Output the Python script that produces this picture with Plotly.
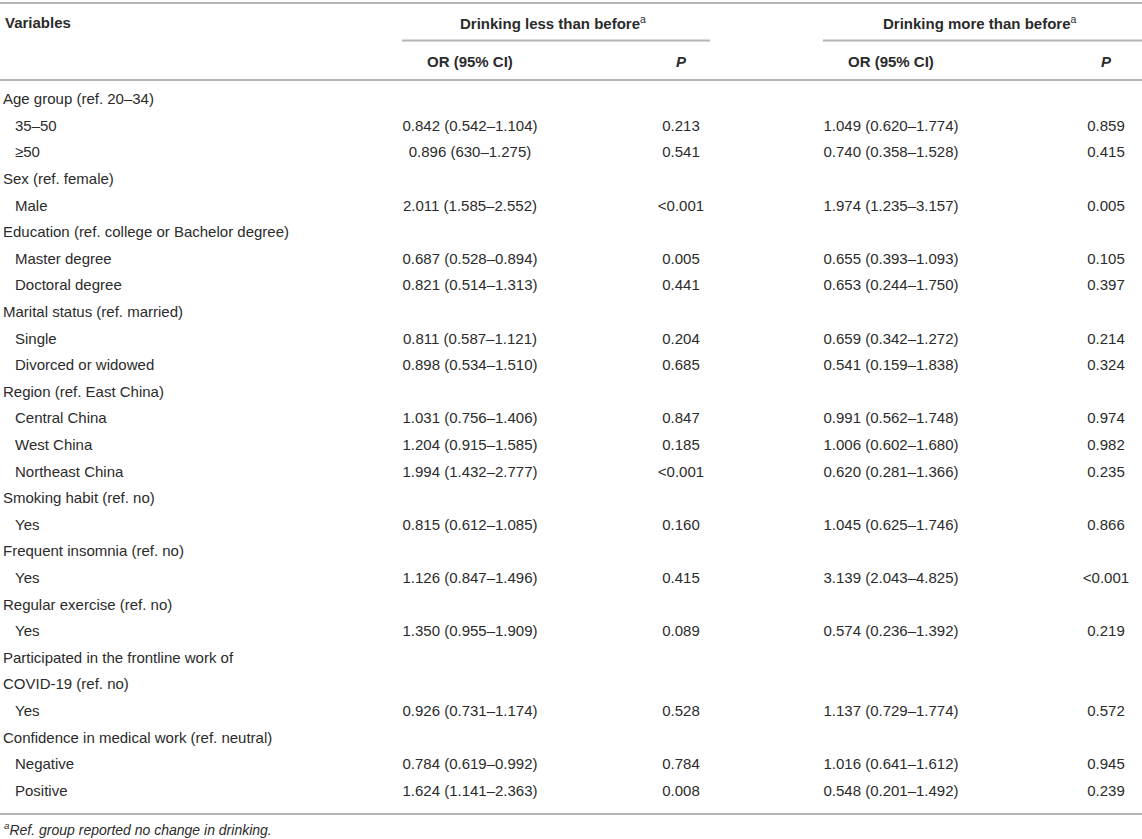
import plotly.graph_objects as go

# table contents
variables = [
    "Age group (ref. 20–34)", "35–50", "≥50",
    "Sex (ref. female)", "Male",
    "Education (ref. college or Bachelor degree)", "Master degree", "Doctoral degree",
    "Marital status (ref. married)", "Single", "Divorced or widowed",
    "Region (ref. East China)", "Central China", "West China", "Northeast China",
    "Smoking habit (ref. no)", "Yes",
    "Frequent insomnia (ref. no)", "Yes",
    "Regular exercise (ref. no)", "Yes",
    "Participated in the frontline work of", "COVID-19 (ref. no)", "Yes",
    "Confidence in medical work (ref. neutral)", "Negative", "Positive",
]
indented = [0, 1, 1, 0, 1, 0, 1, 1, 0, 1, 1, 0, 1, 1, 1, 0, 1, 0, 1, 0, 1, 0, 0, 1, 0, 1, 1]

less_or = [
    "", "0.842 (0.542–1.104)", "0.896 (630–1.275)",
    "", "2.011 (1.585–2.552)",
    "", "0.687 (0.528–0.894)", "0.821 (0.514–1.313)",
    "", "0.811 (0.587–1.121)", "0.898 (0.534–1.510)",
    "", "1.031 (0.756–1.406)", "1.204 (0.915–1.585)", "1.994 (1.432–2.777)",
    "", "0.815 (0.612–1.085)",
    "", "1.126 (0.847–1.496)",
    "", "1.350 (0.955–1.909)",
    "", "", "0.926 (0.731–1.174)",
    "", "0.784 (0.619–0.992)", "1.624 (1.141–2.363)",
]
less_p = [
    "", "0.213", "0.541", "", "<0.001", "", "0.005", "0.441", "", "0.204", "0.685",
    "", "0.847", "0.185", "<0.001", "", "0.160", "", "0.415", "", "0.089",
    "", "", "0.528", "", "0.784", "0.008",
]
more_or = [
    "", "1.049 (0.620–1.774)", "0.740 (0.358–1.528)",
    "", "1.974 (1.235–3.157)",
    "", "0.655 (0.393–1.093)", "0.653 (0.244–1.750)",
    "", "0.659 (0.342–1.272)", "0.541 (0.159–1.838)",
    "", "0.991 (0.562–1.748)", "1.006 (0.602–1.680)", "0.620 (0.281–1.366)",
    "", "1.045 (0.625–1.746)",
    "", "3.139 (2.043–4.825)",
    "", "0.574 (0.236–1.392)",
    "", "", "1.137 (0.729–1.774)",
    "", "1.016 (0.641–1.612)", "0.548 (0.201–1.492)",
]
more_p = [
    "", "0.859", "0.415", "", "0.005", "", "0.105", "0.397", "", "0.214", "0.324",
    "", "0.974", "0.982", "0.235", "", "0.866", "", "<0.001", "", "0.219",
    "", "", "0.572", "", "0.945", "0.239",
]

group_titles = ["Drinking less than before", "Drinking more than before"]
footnote = "Ref. group reported no change in drinking."

W, H = 1142, 839
TXT = "#2b2b2b"
LINE = "#b4b4b4"
FONT = "Liberation Sans, Arial, sans-serif"
FS = 15

row_y0, row_h = 100.5, 26.6
rows_y = [row_y0 + i * row_h for i in range(len(variables))]


def esc(s):
    return s.replace("<", "&lt;")


fig = go.Figure()

# variable labels (left aligned)
fig.add_trace(go.Scatter(
    x=[15 if ind else 3 for ind in indented], y=rows_y,
    text=variables, mode="text", textposition="middle right",
    textfont=dict(family=FONT, size=FS, color=TXT), hoverinfo="skip",
))

# numeric columns (centred), empty cells skipped
for cx, col in [(470, less_or), (681, less_p), (891, more_or), (1106, more_p)]:
    ys = [y for y, v in zip(rows_y, col) if v]
    vals = [esc(v) for v in col if v]
    fig.add_trace(go.Scatter(
        x=[cx] * len(vals), y=ys, text=vals,
        mode="text", textposition="middle center",
        textfont=dict(family=FONT, size=FS, color=TXT), hoverinfo="skip",
    ))

ann = []
hdr = dict(family=FONT, size=FS, color=TXT)
ann.append(dict(x=3, y=22, text="<b>Variables</b>", xanchor="left"))
ann.append(dict(x=553, y=22, text="<b>%s</b><sup>a</sup>" % group_titles[0], xanchor="center"))
ann.append(dict(x=980, y=22, text="<b>%s</b><sup>a</sup>" % group_titles[1], xanchor="center"))
for cx, t in [(470, "<b>OR (95% CI)</b>"), (681, "<b><i>P</i></b>"),
              (891, "<b>OR (95% CI)</b>"), (1106, "<b><i>P</i></b>")]:
    ann.append(dict(x=cx, y=61, text=t, xanchor="center"))
ann.append(dict(x=2, y=829, text="<i><sup>a</sup>%s</i>" % footnote, xanchor="left",
                font=dict(family=FONT, size=FS - 1, color=TXT)))
for a in ann:
    a.setdefault("font", hdr)
    a.update(xref="x", yref="y", yanchor="middle", showarrow=False)

shapes = []
for x0, x1, y in [(0, W, 3), (402, 710, 40.5), (823, W, 40.5), (0, W, 80), (0, W, 814)]:
    shapes.append(dict(type="line", xref="x", yref="y", x0=x0, x1=x1, y0=y, y1=y,
                       line=dict(color=LINE, width=2)))

fig.update_layout(
    width=W, height=H, margin=dict(l=0, r=0, t=0, b=0),
    paper_bgcolor="white", plot_bgcolor="white", showlegend=False,
    xaxis=dict(range=[0, W], visible=False, fixedrange=True),
    yaxis=dict(range=[H, 0], visible=False, fixedrange=True),
    annotations=ann, shapes=shapes,
)

fig.write_html("out.html", config={"displayModeBar": False},
               post_script="document.body.style.margin='0';")
